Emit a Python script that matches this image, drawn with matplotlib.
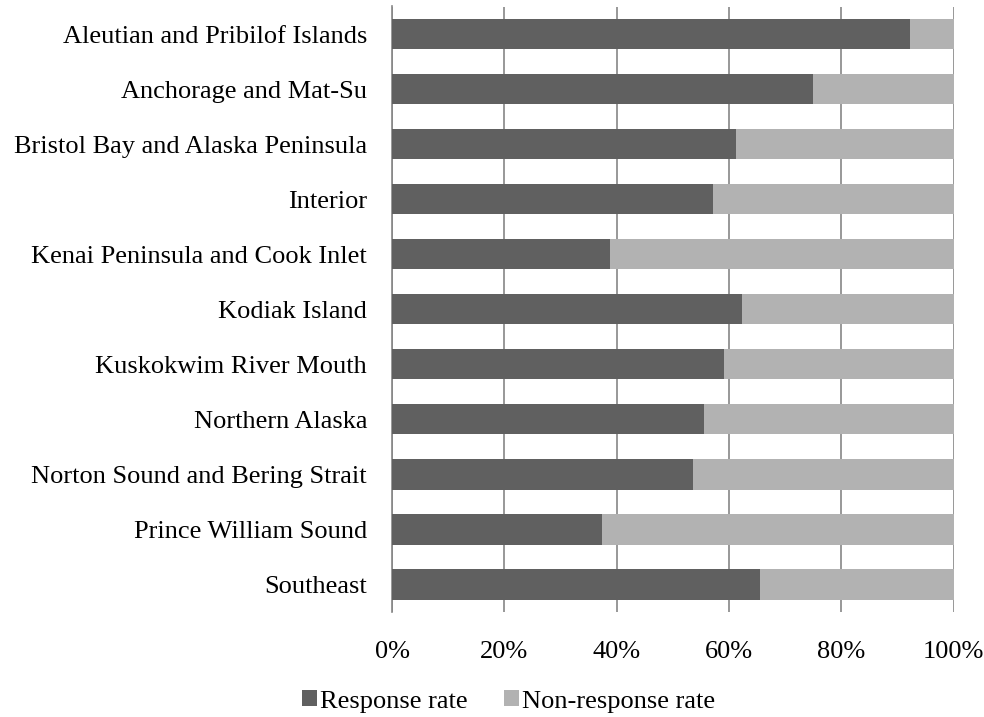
import matplotlib
matplotlib.use("Agg")
import matplotlib.pyplot as plt
from matplotlib.ticker import FuncFormatter

categories = [
    "Aleutian and Pribilof Islands",
    "Anchorage and Mat-Su",
    "Bristol Bay and Alaska Peninsula",
    "Interior",
    "Kenai Peninsula and Cook Inlet",
    "Kodiak Island",
    "Kuskokwim River Mouth",
    "Northern Alaska",
    "Norton Sound and Bering Strait",
    "Prince William Sound",
    "Southeast",
]
response_rate = [92.3, 75.0, 61.2, 57.1, 38.8, 62.4, 59.2, 55.5, 53.6, 37.4, 65.5]
nonresponse_rate = [100 - v for v in response_rate]
xticks = [0, 20, 40, 60, 80, 100]

plt.rcParams['font.family'] = ['Liberation Serif', 'DejaVu Serif']
FS = 19

fig = plt.figure(figsize=(9.84, 7.17), dpi=100)
W, H = 984, 717
left, right, top, bottom = 392, 953.5, 6.5, 612
ax = fig.add_axes([left / W, 1 - bottom / H, (right - left) / W, (bottom - top) / H])

y = list(range(len(categories)))
ax.barh(y, response_rate, height=0.55, color='#606060', label='Response rate', zorder=3)
ax.barh(y, nonresponse_rate, left=response_rate, height=0.55, color='#b2b2b2',
        label='Non-response rate', zorder=3)

ax.set_ylim(len(categories) - 0.5, -0.5)
ax.set_xlim(0, 100)
ax.set_yticks(y)
ax.set_yticklabels(categories, fontsize=FS)
ax.set_xticks(xticks)
ax.xaxis.set_major_formatter(FuncFormatter(lambda v, p: f"{int(v)}%"))
ax.tick_params(axis='x', labelsize=FS, length=0, pad=21)
ax.tick_params(axis='y', length=0, pad=18)

ax.grid(axis='x', color='#868686', linewidth=1.2, zorder=0)
for s in ['top', 'right', 'bottom']:
    ax.spines[s].set_visible(False)
ax.spines['left'].set_color('#868686')
ax.spines['left'].set_linewidth(1.2)

fig.legend(loc='lower center', bbox_to_anchor=(0.517, -0.027), ncol=2, frameon=False,
           fontsize=FS, handlelength=0.55, handleheight=0.55, handletextpad=0.12,
           columnspacing=1.4)

fig.savefig("out.png", dpi=100)
